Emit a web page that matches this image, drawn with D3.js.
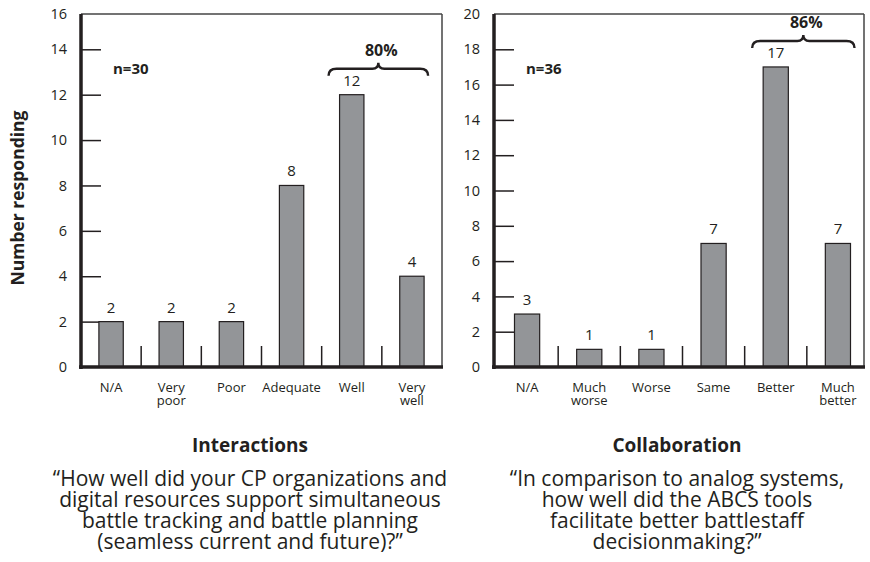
<!DOCTYPE html>
<html>
<head>
<meta charset="utf-8">
<script src="https://cdn.jsdelivr.net/npm/d3@7"></script>
<style>
  html, body { margin: 0; padding: 0; background: #fff; }
  svg { display: block; font-family: "Open Sans", "Noto Sans", sans-serif; }
</style>
</head>
<body>
<svg id="chart" width="870" height="562"></svg>
<script>
// ---- data ----
const interactionsCategories = ["N/A", "Very\npoor", "Poor", "Adequate", "Well", "Very\nwell"];
const interactionsValues = [2, 2, 2, 8, 12, 4];
const interactionsTicks = [0, 2, 4, 6, 8, 10, 12, 14, 16];
const interactionsN = "n=30";
const interactionsBrace = { from: "Well", to: "Very\nwell", label: "80%" };
const interactionsTitle = "Interactions";
const interactionsQuote = [
  "\u201CHow well did your CP organizations and",
  "digital resources support simultaneous",
  "battle tracking and battle planning",
  "(seamless current and future)?\u201D"
];

const collaborationCategories = ["N/A", "Much\nworse", "Worse", "Same", "Better", "Much\nbetter"];
const collaborationValues = [3, 1, 1, 7, 17, 7];
const collaborationTicks = [0, 2, 4, 6, 8, 10, 12, 14, 16, 18, 20];
const collaborationN = "n=36";
const collaborationBrace = { from: "Better", to: "Much\nbetter", label: "86%" };
const collaborationTitle = "Collaboration";
const collaborationQuote = [
  "\u201CIn comparison to analog systems,",
  "how well did the ABCS tools",
  "facilitate better battlestaff",
  "decisionmaking?\u201D"
];

const yTitle = "Number responding";

// ---- styling ----
const INK = "#231f20";
const BAR = "#939598";

const svg = d3.select("#chart");

function panel(opts) {
  const { left, right, top, bottom, cats, vals, ticks, yDomain, yRange,
          bandRange, n, brace, title, quote, cx } = opts;
  const g = svg.append("g");

  const y = d3.scaleLinear().domain(yDomain).range(yRange);
  const x = d3.scaleBand().domain(cats).range(bandRange)
    .paddingInner(0.595).paddingOuter(0.2975);
  const bw = x.bandwidth();
  const step = x.step();

  // frame (thin top & right)
  g.append("line").attr("x1", left).attr("x2", right).attr("y1", top).attr("y2", top)
    .attr("stroke", "#444").attr("stroke-width", 1.5);
  g.append("line").attr("x1", right).attr("x2", right).attr("y1", top).attr("y2", bottom)
    .attr("stroke", "#444").attr("stroke-width", 1.5);

  // y axis
  const ax = g.append("g").attr("transform", `translate(${left},0)`)
    .call(d3.axisLeft(y).tickValues(ticks).tickSize(-20).tickPadding(14).tickFormat(d3.format("d")));
  ax.select(".domain").remove();
  ax.selectAll(".tick line").attr("stroke", INK).attr("stroke-width", 1.5)
    .attr("display", d => (d === ticks[0] || d === ticks[ticks.length - 1]) ? "none" : null);
  ax.selectAll(".tick text").attr("fill", INK).attr("font-size", 14.5)
    .attr("font-family", "\"Open Sans\", sans-serif");

  // separators between categories
  g.selectAll(".sep").data(cats.slice(0, -1)).join("line")
    .attr("x1", d => x(d) + bw / 2 + step / 2).attr("x2", d => x(d) + bw / 2 + step / 2)
    .attr("y1", bottom).attr("y2", bottom - 21)
    .attr("stroke", INK).attr("stroke-width", 1.5);

  // bars
  g.selectAll(".bar").data(cats).join("rect")
    .attr("x", d => x(d)).attr("width", bw)
    .attr("y", (d, i) => y(vals[i])).attr("height", (d, i) => y(0) - y(vals[i]))
    .attr("fill", BAR).attr("stroke", INK).attr("stroke-width", 1.2);

  // value labels
  g.selectAll(".val").data(cats).join("text")
    .attr("x", d => x(d) + bw / 2).attr("y", (d, i) => y(vals[i]) - 9)
    .attr("text-anchor", "middle").attr("font-size", 15).attr("fill", INK)
    .text((d, i) => vals[i]);

  // category labels (one text element per line)
  const catLines = cats.flatMap(d => d.split("\n").map((l, j) => ({ cat: d, line: l, j })));
  g.selectAll(".cat").data(catLines).join("text")
    .attr("x", d => x(d.cat) + bw / 2).attr("y", d => bottom + 24.5 + d.j * 13.2)
    .attr("text-anchor", "middle").attr("font-size", 13).attr("fill", INK)
    .text(d => d.line);

  // axes (thick left & bottom)
  g.append("line").attr("x1", left).attr("x2", left).attr("y1", top).attr("y2", bottom + 2)
    .attr("stroke", INK).attr("stroke-width", 3.5);
  g.append("line").attr("x1", left - 2).attr("x2", right + 1).attr("y1", bottom).attr("y2", bottom)
    .attr("stroke", INK).attr("stroke-width", 3.5);

  // n label
  g.append("text").attr("x", left + 32).attr("y", 74).attr("font-size", 15)
    .attr("font-weight", "bold").attr("fill", INK).text(n);

  // brace
  const x0 = x(brace.from) - 11;
  const x1 = x(brace.to) + bw + 4;
  const xm = (x0 + x1) / 2;
  const maxV = d3.max(vals);
  const h = y(maxV) - 26;
  const p = d3.path();
  p.moveTo(x0, h + 7);
  p.quadraticCurveTo(x0, h, x0 + 8, h);
  p.lineTo(xm - 6, h);
  p.quadraticCurveTo(xm, h, xm, h - 6);
  p.quadraticCurveTo(xm, h, xm + 6, h);
  p.lineTo(x1 - 8, h);
  p.quadraticCurveTo(x1, h, x1, h + 7);
  g.append("path").attr("d", p.toString()).attr("fill", "none")
    .attr("stroke", INK).attr("stroke-width", 2.4);
  g.append("text").attr("x", xm + 3).attr("y", h - 13).attr("text-anchor", "middle")
    .attr("font-size", 16).attr("font-weight", "bold").attr("fill", INK).text(brace.label);

  // caption
  g.append("text").attr("x", cx).attr("y", 452).attr("text-anchor", "middle")
    .attr("font-size", 19).attr("font-weight", "bold").attr("fill", INK).text(title);
  g.selectAll(".q").data(quote).join("text")
    .attr("x", cx).attr("y", (d, i) => 485.5 + i * 21.2).attr("text-anchor", "middle")
    .attr("font-size", 21).attr("fill", INK).text(d => d);
}

panel({
  left: 81, right: 442, top: 14, bottom: 367,
  cats: interactionsCategories, vals: interactionsValues, ticks: interactionsTicks,
  yDomain: [0, 14, 16], yRange: [367, 49.3, 14],
  bandRange: [81, 442], n: interactionsN, brace: interactionsBrace,
  title: interactionsTitle, quote: interactionsQuote, cx: 250
});

panel({
  left: 494, right: 864, top: 14, bottom: 367,
  cats: collaborationCategories, vals: collaborationValues, ticks: collaborationTicks,
  yDomain: [0, 20], yRange: [367, 14],
  bandRange: [496, 869], n: collaborationN, brace: collaborationBrace,
  title: collaborationTitle, quote: collaborationQuote, cx: 677
});

// y title
svg.append("text").attr("transform", "translate(24,198) rotate(-90)")
  .attr("text-anchor", "middle").attr("font-size", 17.5).attr("font-weight", "bold")
  .attr("fill", INK).text(yTitle);
</script>
</body>
</html>
